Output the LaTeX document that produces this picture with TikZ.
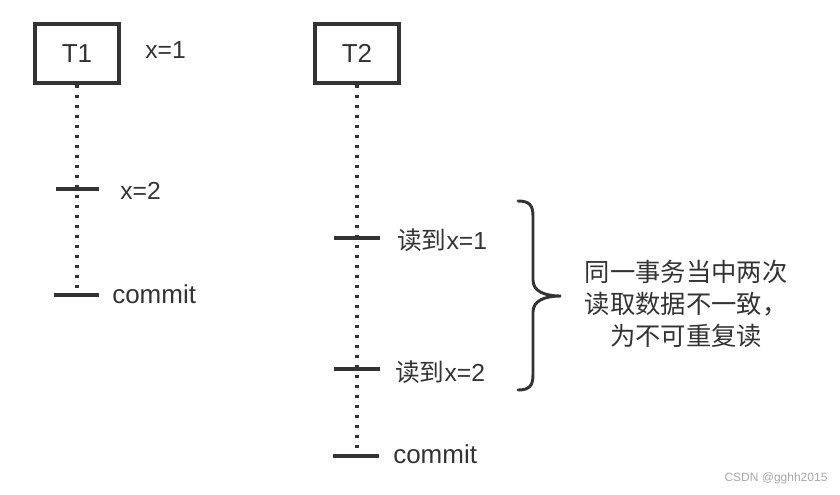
\documentclass[tikz,border=0pt]{standalone}
\usepackage{fontspec}
\setmainfont{Liberation Sans}
\newfontfamily\cjk{Noto Sans CJK SC}
\definecolor{ink}{HTML}{333333}
\definecolor{wm}{HTML}{A8A8A8}
\begin{document}
\begin{tikzpicture}[x=0.75pt,y=-0.75pt,
  box/.style={draw=ink, line width=2.6pt, minimum width=63pt, minimum height=44pt, text=ink, font=\fontsize{19.5}{22}\selectfont, inner sep=0pt},
  life/.style={draw=ink, line width=2.3pt, dash pattern=on 2.2pt off 5.3pt},
  tickmark/.style={draw=ink, line width=2.4pt},
  lbl/.style={text=ink, anchor=west, inner sep=0pt, font=\fontsize{18.5}{20}\selectfont},
  cmt/.style={lbl, font=\fontsize{19.5}{21}\selectfont},
  note/.style={text=ink, align=center, inner sep=0pt, font=\cjk\fontsize{19}{24}\selectfont},
  brace/.style={draw=ink, line width=2.2pt, line cap=round}]
\useasboundingbox (0,0) rectangle (840,494);
% T1
\node[box] (T1) at (77,53.5) {T1};
\node[lbl] (v1) at (145,50) {x=1};
\coordinate (a1) at (77,189);
\coordinate (c1) at (77,295);
\draw[life] (T1.south) -- (c1);
\draw[tickmark] (a1) ++(-21,0) -- ++(43,0);
\draw[tickmark] (c1) ++(-23,0) -- ++(45,0);
\node[lbl] (v2) at (120,191) {x=2};
\node[cmt] (cm1) at (112,294) {commit};
% T2
\node[box] (T2) at (357,53.5) {T2};
\coordinate (r1) at (357,238);
\coordinate (r2) at (357,369);
\coordinate (c2) at (357,456);
\draw[life] (T2.south) -- (c2);
\draw[tickmark] (r1) ++(-23,0) -- ++(46,0);
\draw[tickmark] (r2) ++(-23,0) -- ++(46,0);
\draw[tickmark] (c2) ++(-24,0) -- ++(46,0);
\node[lbl] (l1) at (397,240) {{\cjk 读到}x=1};
\node[lbl] (l2) at (395,372) {{\cjk 读到}x=2};
\node[cmt] (cm2) at (393,454) {commit};
% brace
\coordinate (tip) at (561,296);
\draw[brace] (518,201) .. controls (529,201) and (533,205) .. (533,216) -- (533,280)
  .. controls (533,291) and (544,296) .. (tip)
  .. controls (544,296) and (533,301) .. (533,312) -- (533,375)
  .. controls (533,386) and (529,390) .. (518,390);
\node[note] (nt) at (686,304) {同一事务当中两次\\读取数据不一致，\\为不可重复读};
% watermark
\node[text=wm, inner sep=0pt, font=\fontsize{9}{11}\selectfont] (wmk) at (776,478) {CSDN @gghh2015};
\end{tikzpicture}
\end{document}
